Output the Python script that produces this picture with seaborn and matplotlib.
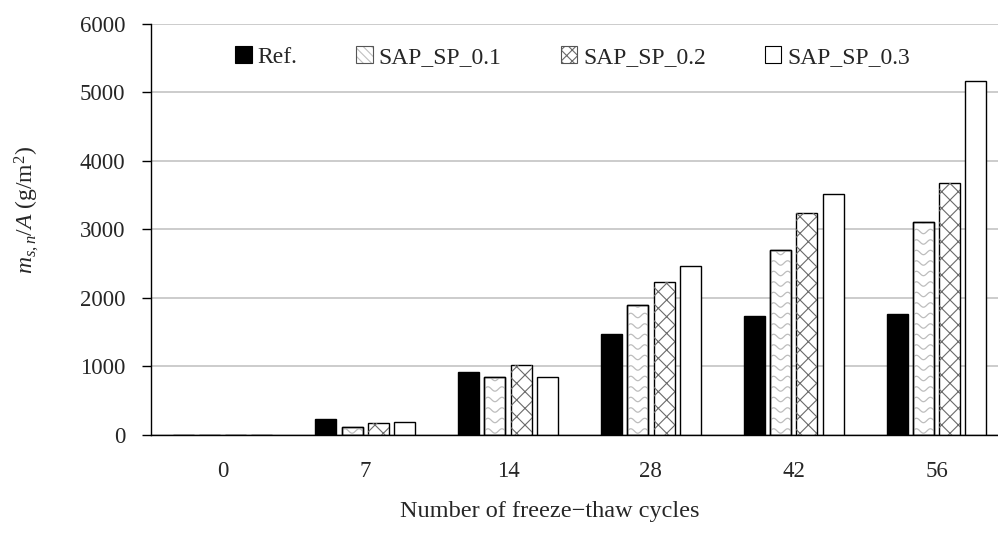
import numpy as np
import pandas as pd
import matplotlib
matplotlib.use("Agg")
import matplotlib.pyplot as plt
from matplotlib.patches import Patch, Rectangle
from matplotlib.legend_handler import HandlerTuple
import seaborn as sns

# Scaling mass per unit area after freeze-thaw cycling
cycles = ["0", "7", "14", "28", "42", "56"]
series = ["Ref.", "SAP_SP_0.1", "SAP_SP_0.2", "SAP_SP_0.3"]
ref = [0, 234, 920, 1470, 1737, 1771]
sap_01 = [0, 112, 851, 1903, 2701, 3105]
sap_02 = [0, 170, 1017, 2234, 3237, 3675]
sap_03 = [0, 185, 851, 2467, 3518, 5173]
y_ticks = [0, 1000, 2000, 3000, 4000, 5000, 6000]

df = pd.DataFrame({
    "cycles": cycles * 4,
    "series": np.repeat(series, len(cycles)),
    "value": ref + sap_01 + sap_02 + sap_03,
})

sns.set_style("white")
plt.rcParams["font.family"] = ["Liberation Serif", "DejaVu Serif"]
plt.rcParams["mathtext.fontset"] = "custom"
plt.rcParams["mathtext.rm"] = "Liberation Serif"
plt.rcParams["mathtext.it"] = "Liberation Serif:italic"
plt.rcParams["hatch.linewidth"] = 0.8

DPI = 100
fig = plt.figure(figsize=(9.98, 5.33), dpi=DPI)
ax = fig.add_axes([0.1513, 0.1839, 0.8587, 0.7711])

face = {"Ref.": "black", "SAP_SP_0.1": "white", "SAP_SP_0.2": "white", "SAP_SP_0.3": "white"}
sns.barplot(data=df, x="cycles", y="value", hue="series", order=cycles,
            hue_order=series, palette=face, width=0.735, gap=0.2,
            edgecolor="black", linewidth=1.0, saturation=1, ax=ax, legend=False)

ax.set_ylim(0, 6000)
ax.set_xlim(-0.5, 5.5)
ax.set_yticks(y_ticks)

# Cross-hatch overlay for SAP_SP_0.2
for bar in ax.containers[2]:
    r = Rectangle((bar.get_x(), bar.get_y()), bar.get_width(), bar.get_height(),
                  fill=False, edgecolor="#6a6a6a", hatch="xx", linewidth=0,
                  zorder=bar.get_zorder() + 0.1)
    ax.add_patch(r)

# Wavy fill for SAP_SP_0.1, drawn in pixel space and clipped to each bar
fig.canvas.draw()
inv = ax.transData.inverted()
for bar in ax.containers[1]:
    if bar.get_height() <= 0:
        continue
    bb = bar.get_window_extent()
    xs = np.linspace(bb.x0, bb.x1, 60)
    for y0 in np.arange(bb.y0 + 4, bb.y1 + 8, 10.5):
        yy = y0 + 2.2 * np.sin(2 * np.pi * (xs - bb.x0) / 14.0)
        pts = inv.transform(np.column_stack([xs, yy]))
        ln, = ax.plot(pts[:, 0], pts[:, 1], color="#bdbdbd", lw=0.9,
                      zorder=bar.get_zorder() + 0.1)
        ln.set_clip_path(bar)
    # outline on top of the waves
    ax.add_patch(Rectangle((bar.get_x(), bar.get_y()), bar.get_width(), bar.get_height(),
                           fill=False, edgecolor="black", linewidth=1.0,
                           zorder=bar.get_zorder() + 0.2))

ax.set_ylim(0, 6000)
ax.set_xlim(-0.5, 5.5)

# Grid and spines
ax.yaxis.grid(True, color="#c4c4c4", linewidth=1.2)
ax.set_axisbelow(True)
for s in ["top", "right"]:
    ax.spines[s].set_visible(False)
for s in ["left", "bottom"]:
    ax.spines[s].set_color("black")
    ax.spines[s].set_linewidth(1.0)

ax.tick_params(axis="y", left=True, length=6.5, width=1.0, pad=12, labelsize=16.5, color="black")
ax.tick_params(axis="x", bottom=False, length=0, pad=19, labelsize=16.5)

ax.set_xlabel("Number of freeze\u2212thaw cycles", fontsize=17.5)
ax.xaxis.set_label_coords(0.465, -0.16)
ax.set_ylabel(r"$m_{s,n}$/$A$ (g/m$^2$)", fontsize=17)
ax.yaxis.set_label_coords(-0.128, 0.547)

# Legend
h_ref = Patch(facecolor="black", edgecolor="black", linewidth=0.8)
h_01 = (Patch(facecolor="white", edgecolor="#c0c0c0", hatch="\\\\\\\\", linewidth=0),
        Patch(facecolor="none", edgecolor="#555555", linewidth=0.8))
h_02 = (Patch(facecolor="white", edgecolor="#6a6a6a", hatch="xxx", linewidth=0),
        Patch(facecolor="none", edgecolor="#555555", linewidth=0.8))
h_03 = Patch(facecolor="white", edgecolor="black", linewidth=0.8)
ax.legend([h_ref, h_01, h_02, h_03], series, handler_map={tuple: HandlerTuple(ndivide=1, pad=0)},
          loc="center left", bbox_to_anchor=(0.098, 0.92), ncol=4, frameon=False,
          fontsize=17, handlelength=0.7, handleheight=0.7, handletextpad=0.25,
          columnspacing=2.5, borderpad=0, borderaxespad=0)

fig.savefig("out.png", dpi=DPI)
